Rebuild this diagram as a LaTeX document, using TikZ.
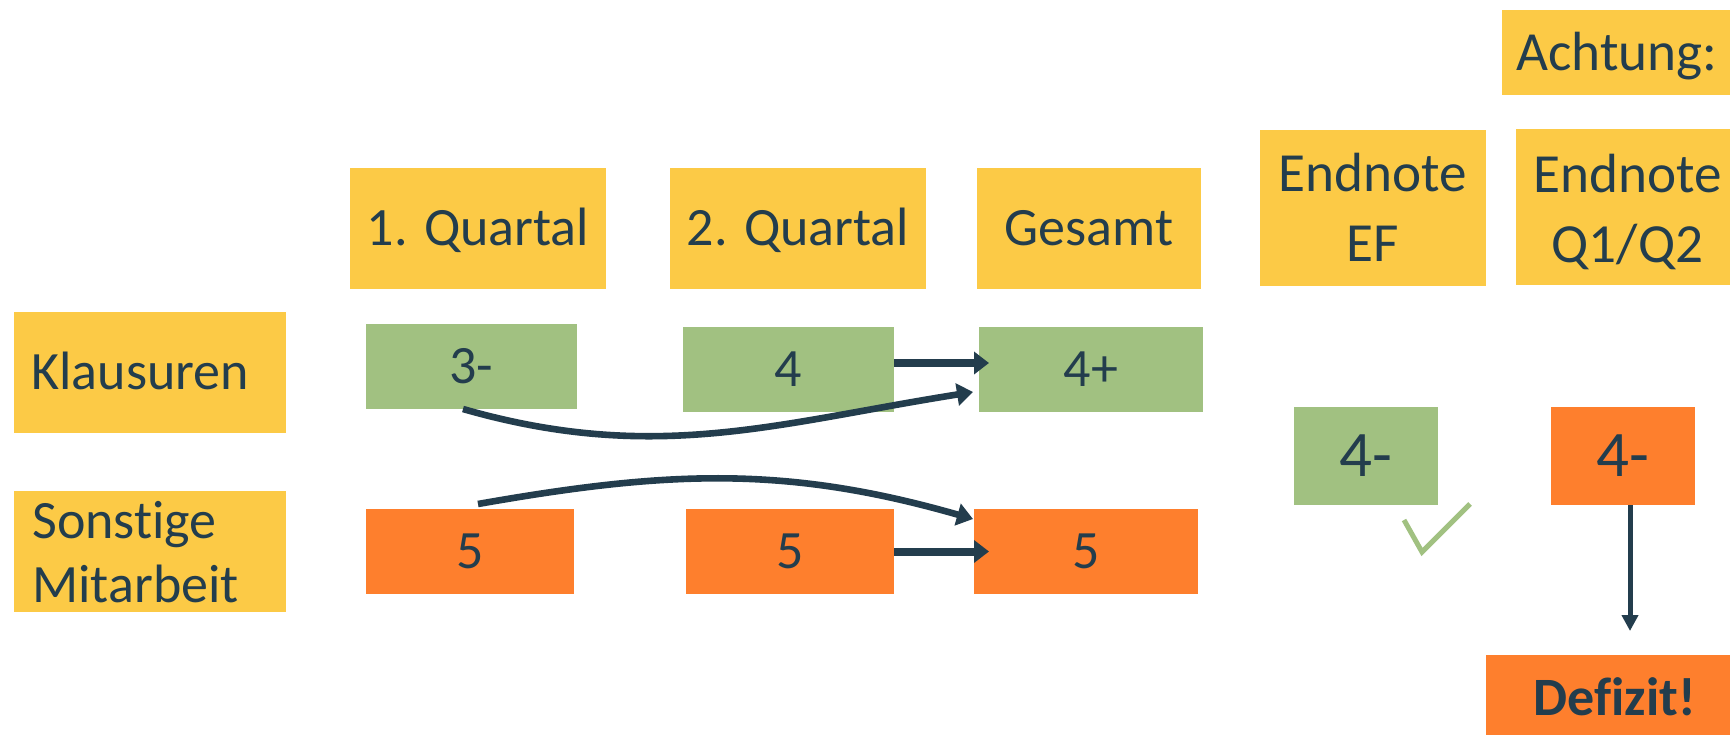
\documentclass[tikz,border=0pt]{standalone}
\usepackage{fontspec}
\setmainfont{Carlito}[Ligatures={NoCommon}]
\usetikzlibrary{arrows.meta}
\definecolor{ink}{HTML}{233D4D}
\definecolor{sun}{HTML}{FCCA46}
\definecolor{sage}{HTML}{A1C181}
\definecolor{tang}{HTML}{FE7F2D}

\begin{document}
\begin{tikzpicture}[x=0.5pt, y=-0.5pt,
  wh/.style 2 args={minimum width={#1*0.5pt}, minimum height={#2*0.5pt}},
  box/.style={inner sep=0pt, outer sep=0pt, text=ink,
    font=\fontsize{27}{32}\selectfont, text height=17.2pt, text depth=0pt},
  head/.style={box, fill=sun},
  good/.style={box, fill=sage},
  bad/.style={box, fill=tang},
  big/.style={font=\fontsize{32.5}{38}\selectfont, text height=20.6pt},
  txt/.style={inner sep=0pt, text=ink, font=\fontsize{27}{32}\selectfont},
  rtxt/.style={txt, font=\fontsize{27.6}{33}\selectfont, anchor=base},
  flow/.style={draw=ink, line width=3.3pt, -{Triangle[length=8pt,width=11pt]}},
  step flow/.style={draw=ink, line width=4pt, -{Triangle[length=7.5pt,width=11pt]}},
]
\useasboundingbox (0,0) rectangle (1730,734);
\fill[white] (0,0) rectangle (1730,734);

% row labels
\node[head, wh={272}{121}] (klaus) at (150,372.5) {};
\node[txt, anchor=base west] (klaust) at (31,389) {Klausuren};
\node[head, wh={272}{121}] (sonst) at (150,551.5) {};
\node[txt, anchor=base west] (sonsta) at (32,538) {Sonstige};
\node[txt, anchor=base west] (sonstb) at (32,602) {Mitarbeit};

% column headers
\node[head, wh={256}{121}] (q1) at (478,228.5) {1. Quartal};
\node[head, wh={256}{121}] (q2) at (798,228.5) {2. Quartal};
\node[head, wh={224}{121}] (ges) at (1089,228.5) {Gesamt};
\node[head, wh={226}{156}] (ef) at (1373,208) {};
\node[rtxt] (efa) at (1373,191) {Endnote};
\node[rtxt] (efb) at (1373,261) {EF};
\node[head, wh={223}{156}] (qq) at (1627.5,207) {};
\node[rtxt] (qqa) at (1627.5,192) {Endnote};
\node[rtxt] (qqb) at (1627.5,262) {Q1/Q2};
\node[head, wh={230}{85}, font=\fontsize{27.6}{33}\selectfont, text height=17.6pt] (acht) at (1617,52.5) {Achtung:};

% grades: written exams
\node[good, wh={211}{85}] (k1) at (471.5,366.5) {3-};
\node[good, wh={211}{85}] (k2) at (788.5,369.5) {4};
\node[good, wh={224}{85}] (k3) at (1091,369.5) {4+};

% grades: other work
\node[bad, wh={208}{85}] (s1) at (470,551.5) {5};
\node[bad, wh={208}{85}] (s2) at (790,551.5) {5};
\node[bad, wh={224}{85}] (s3) at (1086,551.5) {5};

% final grades
\node[good, big, wh={144}{98}] (ef4) at (1366,456) {4-};
\node[bad, big, wh={144}{98}] (qq4) at (1623,456) {4-};
\node[bad, wh={257}{87}, font=\fontsize{27}{32}\selectfont\bfseries] (def) at (1614.5,698.5) {Defizit!};

% straight arrows into the totals
\draw[step flow] ([yshift=3.25pt]k2.east) -- ([xshift=5pt,yshift=3.25pt]k3.west);
\draw[step flow] (s2.east) -- ([xshift=7.5pt]s3.west);

% first quarter carried over to the totals
\draw[flow] ([xshift=-4.25pt]k1.south) to[out=-16,in=189] ([xshift=-3pt,yshift=-11.25pt]k3.west);
\draw[flow] ([xshift=4pt,yshift=2.5pt]s1.north) to[out=10,in=164] ([xshift=-0.5pt,yshift=16.25pt]s3.west);

% tick under the passing grade
\draw[sage, line width=2.5pt] (1404,520) -- (1422,552) -- (1470,504);

% deficit arrow
\path ([xshift=3.5pt]qq4.south) coordinate (vtop);
\draw[draw=ink, line width=2.5pt, -{Triangle[length=8pt,width=8pt]}, shorten >=12pt]
  (vtop) -- (vtop |- def.north);
\end{tikzpicture}
\end{document}
